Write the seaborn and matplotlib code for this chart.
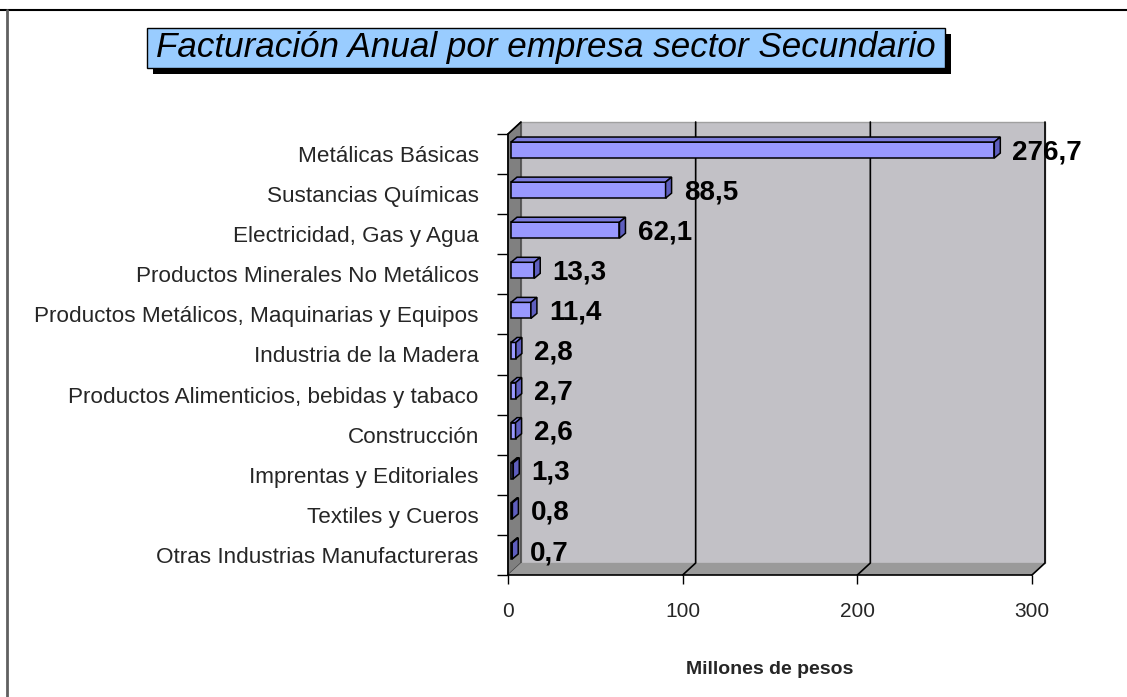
import numpy as np
import pandas as pd
import matplotlib
matplotlib.use("Agg")
import matplotlib.pyplot as plt
import seaborn as sns
from matplotlib.patches import Polygon, Rectangle
from matplotlib.lines import Line2D

# ---------------- data ----------------
sectores = [
    "Metálicas Básicas",
    "Sustancias Químicas",
    "Electricidad, Gas y Agua",
    "Productos Minerales No Metálicos",
    "Productos Metálicos, Maquinarias y Equipos",
    "Industria de la Madera",
    "Productos Alimenticios, bebidas y tabaco",
    "Construcción",
    "Imprentas y Editoriales",
    "Textiles y Cueros",
    "Otras Industrias Manufactureras",
]
valores = [276.7, 88.5, 62.1, 13.3, 11.4, 2.8, 2.7, 2.6, 1.3, 0.8, 0.7]
ticks_x = [0, 100, 200, 300]
titulo = "Facturación Anual por empresa sector Secundario"
etiqueta_x = "Millones de pesos"

# ---------------- style ----------------
sns.set_style("white")
plt.rcParams['font.family'] = ['Liberation Sans', 'DejaVu Sans']

W, H = 1127, 697
fig = plt.figure(figsize=(W / 100, H / 100), dpi=100)
fig.patch.set_facecolor('white')

# front plane of the 3D box, in pixels
L, R, T, B = 508, 1032, 134, 575
ax = fig.add_axes([L / W, 1 - B / H, (R - L) / W, (B - T) / H])

df = pd.DataFrame({'sector': sectores, 'valor': valores})
sns.barplot(data=df, x='valor', y='sector', orient='h', color='#9999FF',
            width=0.4, edgecolor='black', linewidth=1.1, saturation=1,
            ax=ax, zorder=5)
bars = list(ax.patches)

n = len(sectores)
xmax = ticks_x[-1]
ax.set_xlim(0, xmax)
ax.set_ylim(n - 0.5, -0.5)
ax.patch.set_alpha(0)
for s in ax.spines.values():
    s.set_visible(False)

ux = (R - L) / xmax
uy = (B - T) / n
def dx(px):
    return px / ux
def dy(px):
    return px / uy

# walls
wx, wy = dx(13), dy(12)
ax.add_patch(Rectangle((wx, -0.5 - wy), xmax, n, facecolor='#C2C1C6',
                       edgecolor='#A0A0A0', lw=1, clip_on=False, zorder=0))
ax.add_patch(Polygon([(0, -0.5), (wx, -0.5 - wy), (wx, n - 0.5 - wy), (0, n - 0.5)],
                     closed=True, facecolor='#808080', edgecolor='#404040', lw=1,
                     clip_on=False, zorder=1))
ax.add_patch(Polygon([(0, n - 0.5), (wx, n - 0.5 - wy), (xmax + wx, n - 0.5 - wy), (xmax, n - 0.5)],
                     closed=True, facecolor='#9A9A9A', edgecolor='none',
                     clip_on=False, zorder=1))
for g in ticks_x[1:]:
    ax.plot([g + wx, g + wx, g], [-0.5 - wy, n - 0.5 - wy, n - 0.5],
            color='black', lw=1.2, clip_on=False, zorder=2)
ax.plot([0, xmax], [n - 0.5, n - 0.5], color='black', lw=1.2, clip_on=False, zorder=3)
ax.plot([0, 0], [-0.5, n - 0.5], color='black', lw=1.2, clip_on=False, zorder=3)
ax.plot([0, wx], [-0.5, -0.5 - wy], color='black', lw=1.2, clip_on=False, zorder=3)

# 3D bars
sx = dx(3)
bdx, bdy = dx(6), dy(5)
for p, v in zip(bars, valores):
    x0 = p.get_x() + sx
    y0 = p.get_y() - dy(4)
    p.set_x(x0)
    p.set_y(y0)
    w = p.get_width()
    h = p.get_height()
    ax.add_patch(Polygon([(x0, y0), (x0 + w, y0), (x0 + w + bdx, y0 - bdy), (x0 + bdx, y0 - bdy)],
                         closed=True, facecolor='#7C7CDC', edgecolor='black', lw=1.1,
                         clip_on=False, zorder=5))
    ax.add_patch(Polygon([(x0 + w, y0), (x0 + w + bdx, y0 - bdy), (x0 + w + bdx, y0 + h - bdy), (x0 + w, y0 + h)],
                         closed=True, facecolor='#5E5EBE', edgecolor='black', lw=1.1,
                         clip_on=False, zorder=5))
    ax.annotate(f"{v:.1f}".replace('.', ','), xy=(x0 + w, y0 + h / 2),
                xytext=(13, -1.5), textcoords='offset points', ha='left', va='center',
                fontsize=20, fontweight='bold', color='black', zorder=6,
                annotation_clip=False)

# ticks
ax.set_yticks(range(n))
ax.set_yticklabels(sectores)
ax.set_yticks(np.arange(-0.5, n, 1), minor=True)
ax.tick_params(axis='y', which='major', length=0, pad=21, labelsize=16.2, left=True)
ax.tick_params(axis='y', which='minor', length=8, width=1, color='black', direction='out', left=True)
ax.set_xticks(ticks_x)
ax.set_xticklabels([str(t) for t in ticks_x])
ax.tick_params(axis='x', which='major', length=6.5, width=1, color='black', direction='out',
               pad=13, labelsize=15, bottom=True)
ax.set_xlabel('')
ax.set_ylabel('')
ax.grid(False)

fig.text((L + R) / 2 / W, 1 - 670 / H, etiqueta_x, ha='center', va='center',
         fontsize=14, fontweight='bold')

# title box with shadow
bx0, bx1, by0, by1 = 147, 945, 28, 68
fig.add_artist(Rectangle(((bx0 + 6) / W, 1 - (by1 + 6) / H), (bx1 - bx0) / W, (by1 - by0) / H,
                         transform=fig.transFigure, facecolor='black', edgecolor='none'))
fig.add_artist(Rectangle((bx0 / W, 1 - by1 / H), (bx1 - bx0) / W, (by1 - by0) / H,
                         transform=fig.transFigure, facecolor='#99CCFF', edgecolor='black', lw=1))
fig.text((bx0 + bx1) / 2 / W, 1 - (by0 + by1) / 2 / H, titulo, ha='center', va='center',
         fontsize=25.2, style='italic', color='black')

# outer border (top and left)
fig.add_artist(Line2D([0, 1], [1 - 9.5 / H] * 2, color='black', lw=1.5, transform=fig.transFigure))
fig.add_artist(Line2D([6.5 / W] * 2, [0, 1 - 9.5 / H], color='#606060', lw=2, transform=fig.transFigure))

fig.savefig("out.png", dpi=100)
